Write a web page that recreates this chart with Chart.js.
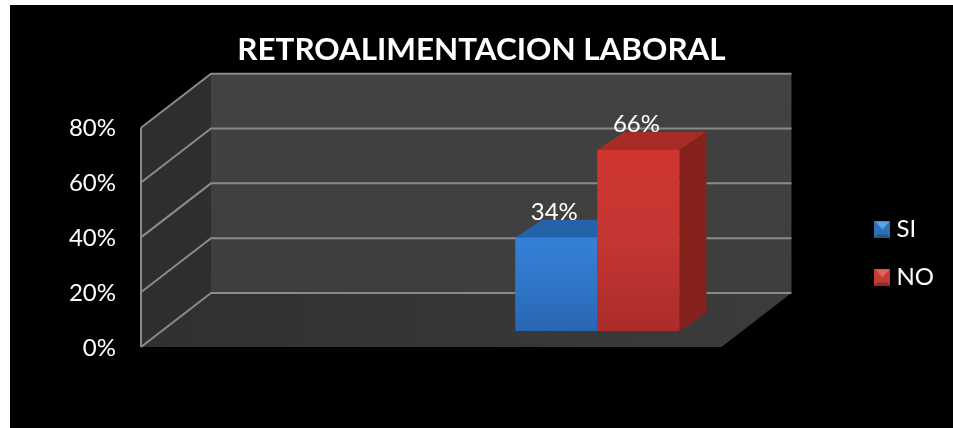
<!DOCTYPE html>
<html>
<head>
<meta charset="utf-8">
<style>
  html, body { margin: 0; background: #fff; }
  #feedbackChart { position: absolute; left: 10px; top: 5px; background: #000; }
</style>
<script src="https://cdn.jsdelivr.net/npm/chart.js@4/dist/chart.umd.min.js"></script>
</head>
<body>
<canvas id="feedbackChart" width="943" height="423"></canvas>
<script>
// Chart values. The first category is left empty, the bars sit in the second one.
const categories = ['', 'Retroalimentacion'];
const siValues = [null, 34];
const noValues = [null, 66];
const seriesNames = ['SI', 'NO'];
const chartTitle = 'RETROALIMENTACION LABORAL';
const yMax = 80;
const yStep = 20;

const FONT = 'Lato, Carlito, sans-serif';
const WALL_DEPTH = { x: 70, y: -54 };  // front plane to back wall
const BAR_OFFSET = { x: 21, y: -16 };  // front plane to bar fronts
const BAR_DEPTH = { x: 27, y: -18 };   // bar front to bar back
const LEGEND_DROP = 77;                // legend sits level with the middle of the plot
const BLUE = { top: '#2463a9', side: '#1d4f88', stops: ['#3580d8', '#2f76c9', '#2866b0'] };
const RED = { top: '#a92b26', side: '#86221d', stops: ['#d03630', '#c43632', '#ab2c2b'] };

function poly(ctx, points, fill) {
  ctx.beginPath();
  points.forEach(([x, y], i) => (i ? ctx.lineTo(x, y) : ctx.moveTo(x, y)));
  ctx.closePath();
  ctx.fillStyle = fill;
  ctx.fill();
}

// small bevelled square for the legend
function legendIcon(light, mid, dark) {
  const c = document.createElement('canvas');
  c.width = 16;
  c.height = 17;
  const g = c.getContext('2d');
  g.fillStyle = mid;
  g.fillRect(0, 0, 16, 17);
  poly(g, [[1, 1], [15, 1], [8, 9]], light);
  poly(g, [[0, 17], [16, 17], [13, 14], [3, 14]], dark);
  return c;
}

function frontFill(c, stops) {
  const chart = c.chart;
  if (!chart.chartArea || c.raw == null) return stops[1];
  const y = chart.scales.y;
  const g = chart.ctx.createLinearGradient(0, y.getPixelForValue(c.raw), 0, y.getPixelForValue(0));
  stops.forEach((s, i) => g.addColorStop(i / (stops.length - 1), s));
  return g;
}

// walls, floor and gridlines of the 3D box
const boxPlugin = {
  id: 'box',
  afterLayout(chart) {
    chart.legend.top += LEGEND_DROP;
    chart.legend.bottom += LEGEND_DROP;
  },
  beforeDraw(chart) {
    const { ctx, chartArea: a, scales: { y } } = chart;
    const dx = WALL_DEPTH.x, dy = WALL_DEPTH.y;
    poly(ctx, [[a.left, a.top], [a.left + dx, a.top + dy], [a.left + dx, a.bottom + dy], [a.left, a.bottom]], '#2e2e2e');
    const wall = ctx.createLinearGradient(0, a.top + dy, 0, a.bottom + dy);
    wall.addColorStop(0, '#424242');
    wall.addColorStop(1, '#3e3e3e');
    poly(ctx, [[a.left + dx, a.top + dy], [a.right + dx, a.top + dy], [a.right + dx, a.bottom + dy], [a.left + dx, a.bottom + dy]], wall);
    const floor = ctx.createLinearGradient(a.left, 0, a.right + dx, 0);
    floor.addColorStop(0, '#303030');
    floor.addColorStop(1, '#3c3c3c');
    poly(ctx, [[a.left, a.bottom], [a.left + dx, a.bottom + dy], [a.right + dx, a.bottom + dy], [a.right, a.bottom]], floor);

    ctx.save();
    ctx.strokeStyle = '#8a8a8a';
    ctx.lineWidth = 2;
    ctx.beginPath();
    ctx.moveTo(a.left, a.top);
    ctx.lineTo(a.left, a.bottom);
    y.ticks.forEach(t => {
      const py = y.getPixelForValue(t.value);
      ctx.moveTo(a.left, py);
      ctx.lineTo(a.left + dx, py + dy);
      ctx.lineTo(a.right + dx, py + dy);
    });
    ctx.stroke();
    ctx.restore();
  }
};

// top and side faces go under the fronts; the whole bar layer is shifted into the box
const barFacesPlugin = {
  id: 'barFaces',
  beforeDatasetsDraw(chart) {
    const ctx = chart.ctx;
    ctx.save();
    ctx.translate(BAR_OFFSET.x, BAR_OFFSET.y);
    [BLUE, RED].forEach((color, d) => {
      chart.getDatasetMeta(d).data.forEach((bar, i) => {
        if (chart.data.datasets[d].data[i] == null) return;
        const l = bar.x - bar.width / 2, r = bar.x + bar.width / 2;
        const dx = BAR_DEPTH.x, dy = BAR_DEPTH.y;
        poly(ctx, [[l, bar.y], [l + dx, bar.y + dy], [r + dx, bar.y + dy], [r, bar.y]], color.top);
        poly(ctx, [[r, bar.y], [r + dx, bar.y + dy], [r + dx, bar.base + dy], [r, bar.base]], color.side);
      });
    });
  },
  afterDatasetsDraw(chart) {
    const ctx = chart.ctx;
    ctx.fillStyle = '#fff';
    ctx.font = '24px ' + FONT;
    ctx.textAlign = 'center';
    ctx.textBaseline = 'alphabetic';
    chart.data.datasets.forEach((ds, d) => {
      chart.getDatasetMeta(d).data.forEach((bar, i) => {
        if (ds.data[i] == null) return;
        ctx.fillText(ds.data[i] + '%', bar.x - 2, bar.y + BAR_DEPTH.y);
      });
    });
    ctx.restore();
  }
};

const legendIcons = [
  legendIcon('#5aa5e6', '#2f6fb8', '#23568f'),
  legendIcon('#e8625c', '#c23a36', '#8f2a27')
];

new Chart(document.getElementById('feedbackChart'), {
  type: 'bar',
  data: {
    labels: categories,
    datasets: [
      { label: seriesNames[0], data: siValues, backgroundColor: c => frontFill(c, BLUE.stops) },
      { label: seriesNames[1], data: noValues, backgroundColor: c => frontFill(c, RED.stops) }
    ]
  },
  options: {
    responsive: false,
    animation: false,
    layout: { padding: { bottom: 81, right: 9, left: 9 } },
    datasets: { bar: { barPercentage: 1, categoryPercentage: 0.566, clip: false } },
    scales: {
      x: { display: false },
      y: {
        min: 0,
        max: yMax,
        afterFit: s => { s.width = 122; },
        grid: { display: false },
        border: { display: false },
        ticks: {
          stepSize: yStep,
          padding: 17,
          labelOffset: 1,
          color: '#fff',
          font: { family: FONT, size: 24 },
          callback: v => v + '%'
        }
      },
      // empty axis that keeps the back wall clear of the legend
      spacer: {
        position: 'right',
        afterFit: s => { s.width = 135; },
        grid: { display: false },
        border: { display: false },
        ticks: { display: false }
      }
    },
    plugins: {
      title: {
        display: true,
        text: chartTitle,
        color: '#fff',
        font: { family: FONT, size: 31.4, weight: 'bold' },
        padding: { top: 26, bottom: 59 }
      },
      legend: {
        position: 'right',
        labels: {
          color: '#fff',
          font: { family: FONT, size: 24 },
          padding: 24,
          boxWidth: 4,
          usePointStyle: true,
          generateLabels: chart => chart.data.datasets.map((ds, i) => ({
            text: ds.label,
            fontColor: '#fff',
            pointStyle: legendIcons[i],
            datasetIndex: i
          }))
        }
      },
      tooltip: { enabled: false }
    }
  },
  plugins: [boxPlugin, barFacesPlugin]
});
</script>
</body>
</html>
